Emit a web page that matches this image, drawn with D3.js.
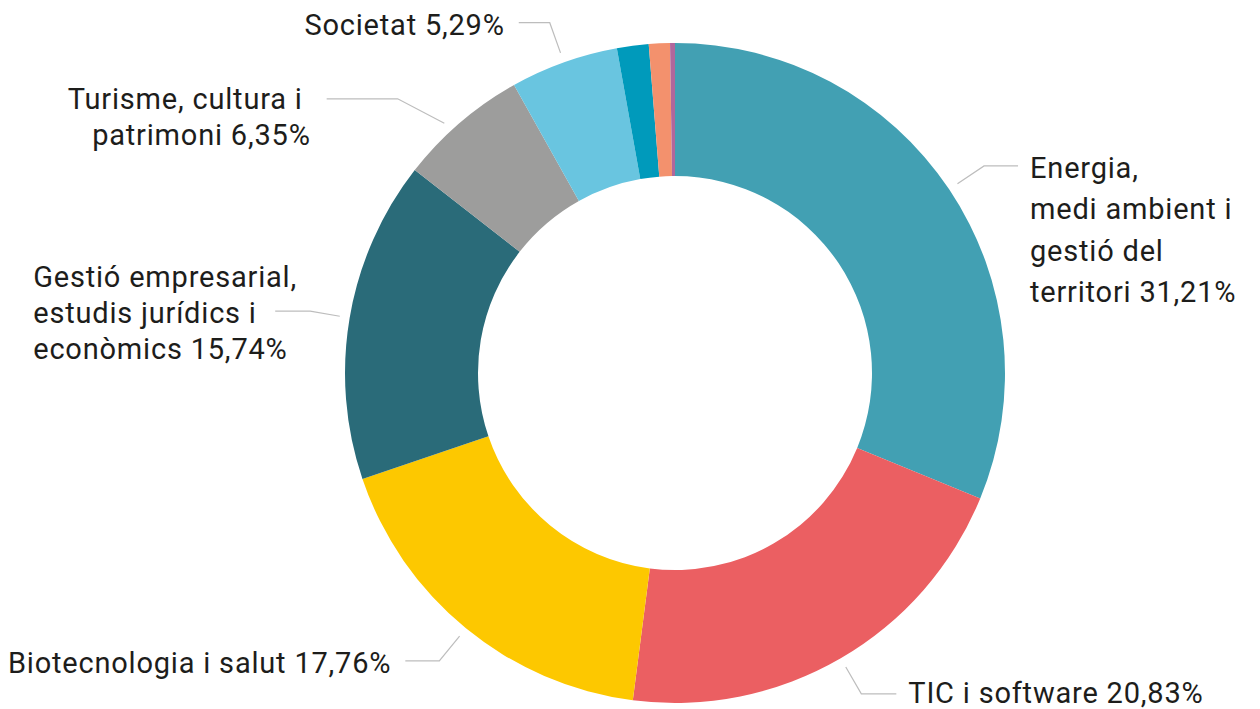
<!DOCTYPE html>
<html>
<head>
<meta charset="utf-8">
<script src="https://cdn.jsdelivr.net/npm/d3@7"></script>
<style>
  html, body { margin: 0; padding: 0; background: #fff; }
  svg { display: block; }
  text { font-family: Roboto, "Noto Sans", sans-serif; font-size: 29px; letter-spacing: 0.8px; fill: #1d1d1b; white-space: pre; }
</style>
</head>
<body>
<svg id="chart" width="1260" height="709"></svg>
<script>
// ── Data ──────────────────────────────────────────────────────────
var categories = [
  "Energia, medi ambient i gestió del territori",
  "TIC i software",
  "Biotecnologia i salut",
  "Gestió empresarial, estudis jurídics i econòmics",
  "Turisme, cultura i patrimoni",
  "Societat",
  "Altres 1",
  "Altres 2",
  "Altres 3"
];
var values = [31.21, 20.83, 17.76, 15.74, 6.35, 5.29, 1.55, 1.03, 0.24];
var colors = ["#42a0b3", "#eb5f62", "#fdc800", "#2a6b79", "#9d9d9c", "#69c5e0", "#009abb", "#f3916d", "#b0679c"];

// label text, split in lines as in the original (null = no label)
var labelLines = [
  ["Energia,", "medi ambient i", "gestió del", "territori 31,21%"],
  ["TIC i software 20,83%"],
  ["Biotecnologia i salut 17,76%"],
  ["Gestió empresarial,", "estudis jurídics i", "econòmics 15,74%"],
  ["Turisme, cultura i\u00a0", "patrimoni 6,35%"],
  ["Societat 5,29%"],
  null, null, null
];

// ── Layout ────────────────────────────────────────────────────────
var CX = 675, CY = 373;
var OUTER = 330, INNER = 197;
var LEAD_START = 340;

// per-label leader / text placement (elbow radius, horizontal length,
// angle tweaks in degrees, text offset from the leader end, anchor, line height)
var labelLayout = [
  { elbow: 372, len: 34, a0: 0,    a1: 0,    dx: 12,   dy: 12,  anchor: "start", lh: 41.5 },
  { elbow: 371, len: 35, a0: 0,    a1: 0,    dx: 12,   dy: 9,   anchor: "start", lh: 40 },
  { elbow: 372, len: 34, a0: 0,    a1: 0,    dx: -14,  dy: 12,  anchor: "end",   lh: 40 },
  { elbow: 370, len: 35, a0: 0,    a1: 0,    dx: -242, dy: -24, anchor: "start", lh: 36 },
  { elbow: 390, len: 71, a0: -2.1, a1: -4.7, dx: -16,  dy: 10,  anchor: "end",   lh: 36 },
  { elbow: 372, len: 31, a0: 0,    a1: 0,    dx: -14,  dy: 12,  anchor: "end",   lh: 40 }
];

var svg = d3.select("#chart");
var g = svg.append("g").attr("transform", "translate(" + CX + "," + CY + ")");

var pie = d3.pie().sort(null).value(function (d) { return d; });
var arcs = pie(values);

var arc = d3.arc().innerRadius(INNER).outerRadius(OUTER);

g.selectAll(".slice")
  .data(arcs)
  .enter()
  .append("path")
  .attr("class", "slice")
  .attr("d", arc)
  .attr("fill", function (d, i) { return colors[i]; });

// ── Labels ────────────────────────────────────────────────────────
function polar(r, a) { return [r * Math.sin(a), -r * Math.cos(a)]; }
var DEG = Math.PI / 180;

arcs.forEach(function (d, i) {
  if (!labelLines[i]) return;
  var L = labelLayout[i];
  var mid = (d.startAngle + d.endAngle) / 2;
  var p0 = polar(LEAD_START, mid + L.a0 * DEG);
  var p1 = polar(L.elbow, mid + L.a1 * DEG);
  var side = Math.sin(mid) >= 0 ? 1 : -1;
  var p2 = [p1[0] + side * L.len, p1[1]];

  g.append("path")
    .attr("d", d3.line()([p0, p1, p2]))
    .attr("fill", "none")
    .attr("stroke", "#bdbdbd")
    .attr("stroke-width", 1.2);

  var t = g.append("text")
    .attr("text-anchor", L.anchor)
    .attr("x", p2[0] + L.dx)
    .attr("y", p2[1] + L.dy);

  labelLines[i].forEach(function (line, k) {
    t.append("tspan")
      .attr("x", p2[0] + L.dx)
      .attr("y", p2[1] + L.dy + k * L.lh)
      .text(line);
  });
});
</script>
</body>
</html>
